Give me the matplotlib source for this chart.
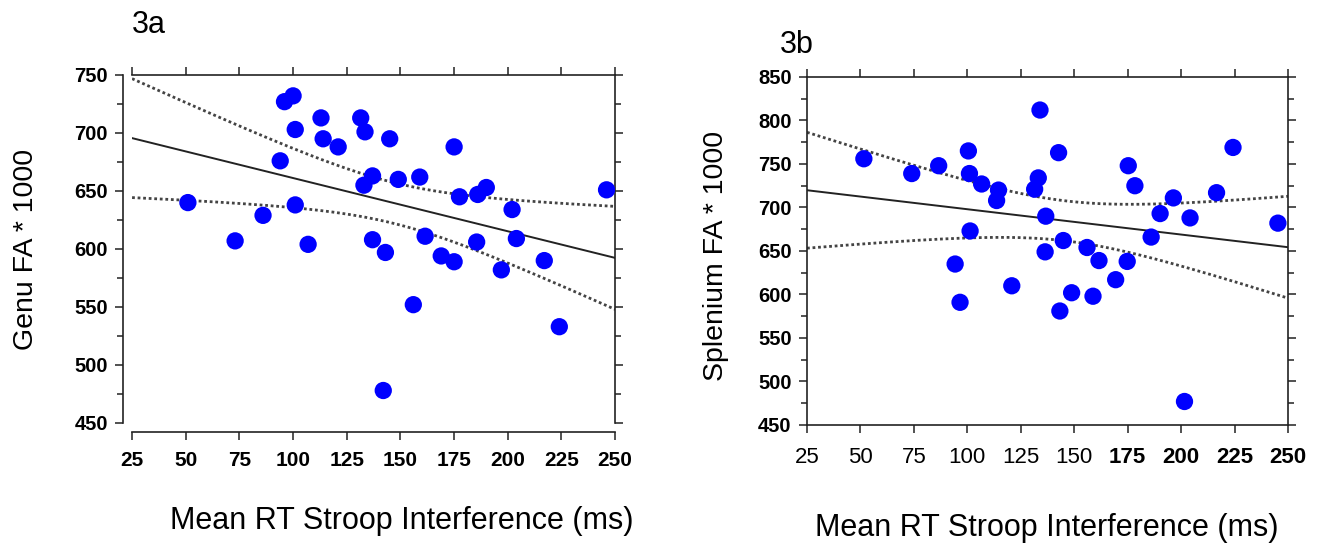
import numpy as np
import matplotlib
matplotlib.use("Agg")
import matplotlib.pyplot as plt
from matplotlib.ticker import MultipleLocator

plt.rcParams['font.family'] = ['Liberation Sans', 'DejaVu Sans']

# Fig 3a: genu FA vs Stroop interference
genu_rt = [51, 73, 86, 94, 96, 100, 101, 101, 107, 113, 114, 121, 131.5, 133.5,
           133, 137, 137, 143, 142, 145, 149, 156, 159, 161.5, 169, 175, 175,
           177.5, 185.5, 186, 190, 197, 202, 204, 217, 224, 246]
genu_fa = [640, 607, 629, 676, 727, 732, 703, 638, 604, 713, 695, 688, 713, 701,
           655, 663, 608, 597, 478, 695, 660, 552, 662, 611, 594, 688, 589,
           645, 606, 647, 653, 582, 634, 609, 590, 533, 651]

# Fig 3b: splenium FA vs Stroop interference
splen_rt = [51.6, 74, 86.6, 94.3, 96.6, 100.5, 101, 101.3, 106.7, 113.7, 114.6,
            120.8, 131.5, 133.2, 134, 136.7, 136.4, 142.7, 143.3, 144.9, 148.8,
            156, 158.8, 161.6, 169.4, 175.3, 174.8, 178.4, 186, 190.2, 196.4,
            201.6, 204.2, 216.6, 224.3, 245.3]
splen_fa = [756, 739, 748, 635, 591, 765, 739, 673, 727, 708, 720, 610, 721, 734,
            812, 690, 649, 763, 581, 662, 602, 654, 598, 639, 617, 748, 638, 725,
            666, 693, 711, 477, 688, 717, 769, 682]

x_ticks = [25, 50, 75, 100, 125, 150, 175, 200, 225, 250]


def fit_band(x, y, xs, t=2.03):
    # least squares line with 95% confidence band of the mean
    x = np.asarray(x, float)
    y = np.asarray(y, float)
    b, a = np.polyfit(x, y, 1)
    res = y - (a + b * x)
    s = np.sqrt(np.sum(res ** 2) / (len(x) - 2))
    sxx = np.sum((x - x.mean()) ** 2)
    fit = a + b * xs
    hw = t * s * np.sqrt(1 / len(x) + (xs - x.mean()) ** 2 / sxx)
    return fit, fit - hw, fit + hw


def draw_panel(ax, x, y, ylim):
    xs = np.linspace(25, 250, 200)
    fit, lo, hi = fit_band(x, y, xs)
    ax.plot(xs, hi, color='#444444', lw=2, ls=(0, (1, 1)))
    ax.plot(xs, lo, color='#444444', lw=2, ls=(0, (1, 1)))
    ax.plot(xs, fit, color='#222222', lw=1.4)
    ax.scatter(x, y, s=155, color='#0000ff', edgecolors='none', zorder=3)
    ax.set_xlim(25, 250)
    ax.set_ylim(*ylim)
    ax.set_xticks(x_ticks)
    ax.yaxis.set_major_locator(MultipleLocator(50))
    ax.yaxis.set_minor_locator(MultipleLocator(25))
    for sp in ax.spines.values():
        sp.set_linewidth(1.2)
        sp.set_color('#222222')
    ax.tick_params(which='both', direction='out', top=True, right=True,
                   width=1.1, color='#222222')
    ax.tick_params(which='major', length=6)
    ax.tick_params(which='minor', length=4)
    ax.tick_params(axis='y', labelsize=14.5, pad=5)


fig = plt.figure(figsize=(13.26, 5.53), dpi=100)

ax1 = fig.add_axes([0.0996, 0.2351, 0.3643, 0.6293])
draw_panel(ax1, genu_rt, genu_fa, (450, 750))
ax1.spines['left'].set_position(('outward', 6.5))
ax1.spines['bottom'].set_position(('outward', 6.5))
ax1.tick_params(axis='x', labelsize=15, pad=8)
for lab in ax1.get_xticklabels() + ax1.get_yticklabels():
    lab.set_fontweight('bold')

ax2 = fig.add_axes([0.6086, 0.2315, 0.3627, 0.6293])
draw_panel(ax2, splen_rt, splen_fa, (450, 850))
ax2.tick_params(axis='x', labelsize=16, pad=10)
for lab in ax2.get_yticklabels():
    lab.set_fontweight('bold')
for lab, v in zip(ax2.get_xticklabels(), x_ticks):
    if v >= 175:
        lab.set_fontweight('bold')

fig.text(132 / 1326, 1 - 33 / 553, '3a', fontsize=22, va='baseline')
fig.text(780 / 1326, 1 - 53 / 553, '3b', fontsize=22, va='baseline')
fig.text(26 / 1326, 1 - 249 / 553, 'Genu FA * 1000', fontsize=20.5,
         rotation=90, ha='center', va='center')
fig.text(716 / 1326, 1 - 256 / 553, 'Splenium FA * 1000', fontsize=20.5,
         rotation=90, ha='center', va='center')
fig.text(402 / 1326, 1 - 521 / 553, 'Mean RT Stroop Interference (ms)',
         fontsize=22, ha='center', va='center')
fig.text(1047 / 1326, 1 - 528 / 553, 'Mean RT Stroop Interference (ms)',
         fontsize=22, ha='center', va='center')

fig.savefig('out.png', dpi=100)
